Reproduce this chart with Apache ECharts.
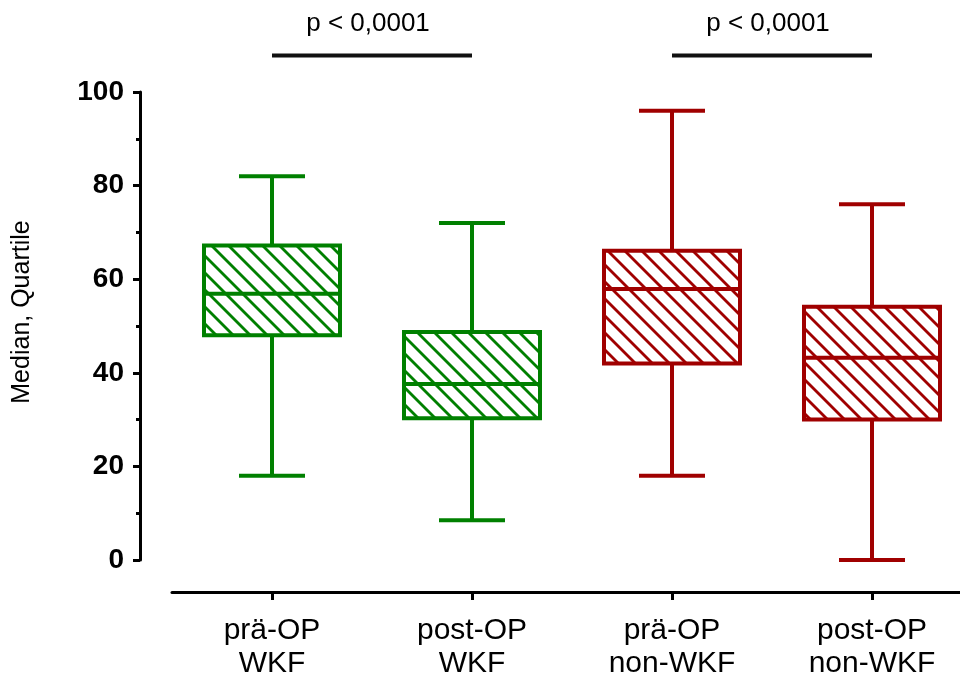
<!DOCTYPE html>
<html><head><meta charset="utf-8">
<script src="https://cdn.jsdelivr.net/npm/echarts@6/dist/echarts.min.js"></script>
<style>html,body{margin:0;padding:0;background:#fff}#c{width:960px;height:677px}</style>
</head><body><div id="c"></div>
<script>
// ---- data ----
const categories = ['prä-OP\nWKF', 'post-OP\nWKF', 'prä-OP\nnon-WKF', 'post-OP\nnon-WKF'];
const whiskerLow  = [18, 8.5, 18, 0];
const quartile1   = [48, 30.3, 42, 30];
const medians     = [56.9, 37.6, 57.9, 43.2];
const quartile3   = [67.2, 48.7, 66.1, 54.1];
const whiskerHigh = [82, 72, 96, 76];
const groupColors = ['#008000', '#008000', '#a00000', '#a00000'];
const comparisons = [[0, 1, 'p < 0,0001'], [2, 3, 'p < 0,0001']];
const yAxisTitle = 'Median, Quartile';

const FONT = 'Arial, "Liberation Sans", Helvetica, sans-serif';

function makeHatch(color) {
  const s = 17;
  const cv = document.createElement('canvas');
  cv.width = s; cv.height = s;
  const ctx = cv.getContext('2d');
  ctx.strokeStyle = color;
  ctx.lineWidth = 2.8;
  ctx.lineCap = 'square';
  for (let k = -1; k <= 1; k++) {
    ctx.beginPath();
    ctx.moveTo(k * s, 0);
    ctx.lineTo(k * s + s, s);
    ctx.stroke();
  }
  return cv;
}
const patterns = groupColors.map(c => ({ image: makeHatch(c), repeat: 'repeat' }));

const seriesData = categories.map((c, i) => [i, whiskerLow[i], quartile1[i], medians[i], quartile3[i], whiskerHigh[i]]);

function renderItem(params, api) {
  const i = api.value(0);
  const band = api.size([1, 0])[0];
  const bw = band * 0.68, cw = band * 0.33;
  const pLow = api.coord([i, api.value(1)]);
  const pQ1 = api.coord([i, api.value(2)]);
  const pMed = api.coord([i, api.value(3)]);
  const pQ3 = api.coord([i, api.value(4)]);
  const pHigh = api.coord([i, api.value(5)]);
  const cx = pLow[0];
  const color = groupColors[i];
  const st = { stroke: color, lineWidth: 4, fill: null };
  return {
    type: 'group',
    children: [
      { type: 'line', shape: { x1: cx, y1: pHigh[1], x2: cx, y2: pQ3[1] }, style: st },
      { type: 'line', shape: { x1: cx, y1: pQ1[1], x2: cx, y2: pLow[1] }, style: st },
      { type: 'line', shape: { x1: cx - cw / 2, y1: pHigh[1], x2: cx + cw / 2, y2: pHigh[1] }, style: st },
      { type: 'line', shape: { x1: cx - cw / 2, y1: pLow[1], x2: cx + cw / 2, y2: pLow[1] }, style: st },
      { type: 'rect', shape: { x: cx - bw / 2, y: pQ3[1], width: bw, height: pQ1[1] - pQ3[1] },
        style: { fill: patterns[i], stroke: color, lineWidth: 4 } },
      { type: 'line', shape: { x1: cx - bw / 2, y1: pMed[1], x2: cx + bw / 2, y2: pMed[1] }, style: st }
    ]
  };
}

const chart = echarts.init(document.getElementById('c'), null, { renderer: 'canvas' });
chart.setOption({
  animation: false,
  backgroundColor: '#fff',
  grid: { left: 172, top: 92, width: 800, height: 468, containLabel: false, outerBoundsMode: 'none' },
  xAxis: {
    type: 'category',
    data: categories,
    offset: 32,
    axisLine: { show: true, onZero: false, lineStyle: { color: '#000', width: 3 } },
    axisTick: { show: true, alignWithLabel: true, length: 8, lineStyle: { color: '#000', width: 3 } },
    axisLabel: { color: '#000', fontFamily: FONT, fontSize: 30, lineHeight: 33, margin: 22 },
    splitLine: { show: false }
  },
  yAxis: {
    type: 'value',
    min: 0, max: 100, interval: 20,
    offset: 32,
    axisLine: { show: true, lineStyle: { color: '#000', width: 3 } },
    axisTick: { show: true, length: 7, lineStyle: { color: '#000', width: 3 } },
    minorTick: { show: true, splitNumber: 2, length: 4, lineStyle: { color: '#000', width: 3 } },
    axisLabel: { color: '#000', fontFamily: FONT, fontSize: 28, fontWeight: 'bold', margin: 16 },
    splitLine: { show: false },
    minorSplitLine: { show: false }
  },
  series: [{
    type: 'custom',
    renderItem: renderItem,
    data: seriesData,
    encode: { x: 0, y: [1, 2, 3, 4, 5] },
    clip: false
  }]
});

const graphics = [{
  type: 'text', x: 22, y: 312, rotation: Math.PI / 2,
  style: { text: yAxisTitle, fill: '#000', font: '25px ' + FONT, align: 'center', verticalAlign: 'middle' }
}];
comparisons.forEach(([a, b, label]) => {
  const xa = chart.convertToPixel({ xAxisIndex: 0 }, a);
  const xb = chart.convertToPixel({ xAxisIndex: 0 }, b);
  const yb = chart.convertToPixel({ yAxisIndex: 0 }, 107.8);
  const yt = chart.convertToPixel({ yAxisIndex: 0 }, 114.5);
  graphics.push({ type: 'line', shape: { x1: xa, y1: yb, x2: xb, y2: yb }, style: { stroke: '#111', lineWidth: 4 } });
  graphics.push({ type: 'text', x: (xa + xb) / 2 - 4, y: yt,
    style: { text: label, fill: '#000', font: '26px ' + FONT, align: 'center', verticalAlign: 'middle' } });
});
chart.setOption({ graphic: graphics });
</script>
</body></html>
